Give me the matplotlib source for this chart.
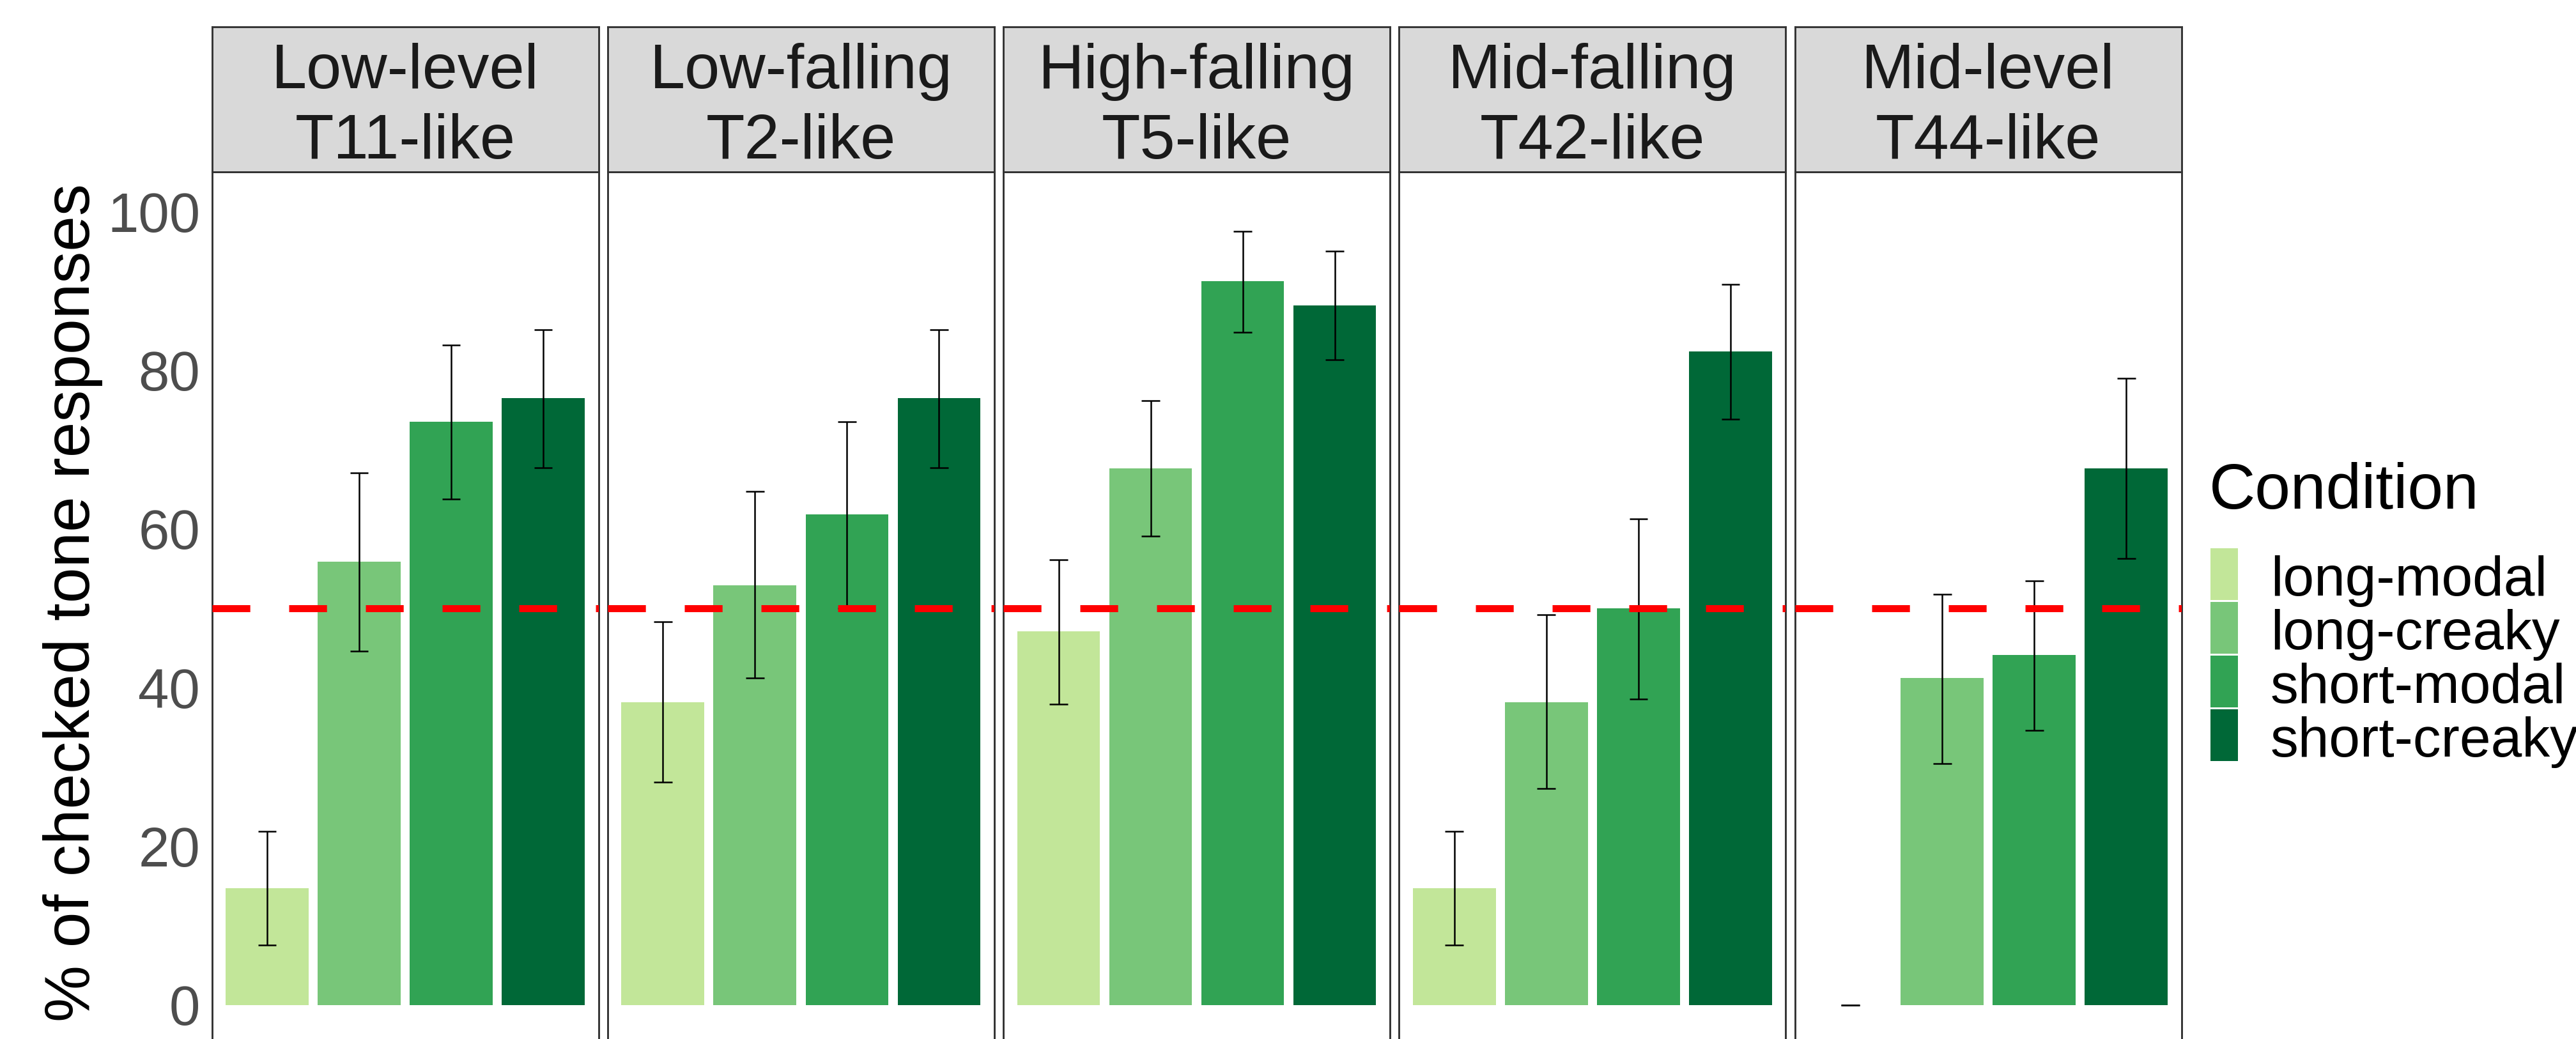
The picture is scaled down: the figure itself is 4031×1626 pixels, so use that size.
import matplotlib
matplotlib.use('Agg')
import matplotlib.pyplot as plt
from matplotlib.patches import Rectangle

plt.rcParams['font.family'] = ['Liberation Sans', 'DejaVu Sans']

tones = ["Low-level\nT11-like", "Low-falling\nT2-like", "High-falling\nT5-like",
         "Mid-falling\nT42-like", "Mid-level\nT44-like"]
conditions = ["long-modal", "long-creaky", "short-modal", "short-creaky"]
colors = ["#C2E699", "#78C679", "#31A354", "#006837"]

# % checked responses per condition, one value per tone panel
long_modal = [14.7, 38.2, 47.1, 14.7, 0.0]
long_creaky = [55.9, 52.9, 67.6, 38.2, 41.2]
short_modal = [73.5, 61.8, 91.2, 50.0, 44.1]
short_creaky = [76.5, 76.5, 88.2, 82.4, 67.6]

# error bar limits
long_modal_lo = [7.6, 28.1, 37.9, 7.6, 0.0]
long_modal_hi = [21.9, 48.3, 56.1, 21.9, 0.0]
long_creaky_lo = [44.6, 41.2, 59.1, 27.3, 30.4]
long_creaky_hi = [67.1, 64.7, 76.2, 49.2, 51.8]
short_modal_lo = [63.8, 50.0, 84.8, 38.6, 34.6]
short_modal_hi = [83.2, 73.5, 97.5, 61.3, 53.5]
short_creaky_lo = [67.7, 67.7, 81.3, 73.8, 56.3]
short_creaky_hi = [85.1, 85.1, 95.0, 90.8, 79.0]

yticks = [0, 20, 40, 60, 80, 100]
chance = 50

means = [long_modal, long_creaky, short_modal, short_creaky]
lows = [long_modal_lo, long_creaky_lo, short_modal_lo, short_creaky_lo]
highs = [long_modal_hi, long_creaky_hi, short_modal_hi, short_creaky_hi]

W, H = 4031, 1626
fig = plt.figure(figsize=(W / 300, H / 300), dpi=300)

# layout in pixels
p_left, p_step, p_width = 331.5, 619.3, 605
p_top, p_bottom = 269, 1635
s_top = 42
border = "#333333"

for i, tone in enumerate(tones):
    x0 = (p_left + i * p_step) / W
    ax = fig.add_axes([x0, 1 - p_bottom / H, p_width / W, (p_bottom - p_top) / H])
    for j in range(len(conditions)):
        xpos = j + 1
        ax.bar(xpos, means[j][i], width=0.9, color=colors[j], zorder=2)
        ax.vlines(xpos, lows[j][i], highs[j][i], color="black", lw=0.6, zorder=3)
        ax.hlines([lows[j][i], highs[j][i]], xpos - 0.1, xpos + 0.1, color="black", lw=0.6, zorder=3)
    ax.axhline(chance, color="#FF0000", lw=2.64, linestyle=(0, (5.38, 5.53)), zorder=4)
    ax.set_xlim(0.4, 4.6)
    ax.set_ylim(-5, 105)
    ax.set_xticks([])
    ax.set_yticks(yticks)
    ax.tick_params(axis='y', length=0, pad=4.4, labelsize=20.9, labelcolor="#4D4D4D")
    if i > 0:
        ax.set_yticklabels([])
    for sp in ax.spines.values():
        sp.set_color(border)
        sp.set_linewidth(0.7)

    # facet strip
    sax = fig.add_axes([x0, 1 - p_top / H, p_width / W, (p_top - s_top) / H])
    sax.set_facecolor("#D9D9D9")
    sax.set_xticks([])
    sax.set_yticks([])
    for sp in sax.spines.values():
        sp.set_color(border)
        sp.set_linewidth(0.7)
    sax.text(0.5, 0.447, tone, ha='center', va='center', fontsize=23.8,
             color="#1A1A1A", linespacing=1.257, transform=sax.transAxes)

fig.text(140 / W, 1 - 943 / H, "% of checked tone responses", rotation=90,
         rotation_mode='anchor', ha='center', va='baseline', fontsize=24, color="black")

# legend
fig.text(3457 / W, 1 - 796 / H, "Condition", fontsize=24, ha='left', va='baseline')
for j, (cond, col) in enumerate(zip(conditions, colors)):
    top = 858 + j * 84
    fig.add_artist(Rectangle((3459 / W, 1 - (top + 81) / H), 43 / W, 81 / H,
                             facecolor=col, edgecolor='none', transform=fig.transFigure))
    fig.text(3553 / W, 1 - (932 + j * 84) / H, cond, fontsize=21, ha='left', va='baseline')

fig.savefig("out.png", dpi=300, facecolor="white")
